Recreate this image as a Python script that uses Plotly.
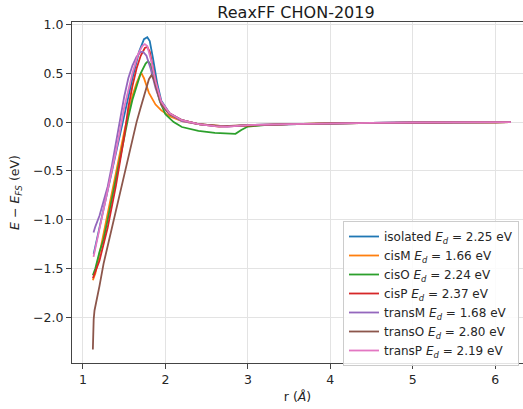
import plotly.graph_objects as go

# ---- data ----
labels = [
    "isolated <i>E</i><sub><i>d</i></sub> = 2.25 eV",
    "cisM <i>E</i><sub><i>d</i></sub> = 1.66 eV",
    "cisO <i>E</i><sub><i>d</i></sub> = 2.24 eV",
    "cisP <i>E</i><sub><i>d</i></sub> = 2.37 eV",
    "transM <i>E</i><sub><i>d</i></sub> = 1.68 eV",
    "transO <i>E</i><sub><i>d</i></sub> = 2.80 eV",
    "transP <i>E</i><sub><i>d</i></sub> = 2.19 eV",
]
colors = ["#1f77b4", "#ff7f0e", "#2ca02c", "#d62728", "#9467bd", "#8c564b", "#e377c2"]

tail_r = [3.5, 4.0, 4.5, 5.0, 5.5, 6.0, 6.19]
tail_e = [-0.02, -0.012, -0.007, -0.004, -0.002, -0.001, 0.0]

isolated_r = [1.13, 1.2, 1.3, 1.4, 1.45, 1.5, 1.6, 1.68, 1.74, 1.78, 1.81, 1.85, 1.9, 1.95, 2.05, 2.2, 2.4, 2.6, 2.8, 3.0] + tail_r
isolated_e = [-1.35, -1.08, -0.72, -0.33, -0.12, 0.08, 0.45, 0.72, 0.85, 0.87, 0.83, 0.65, 0.40, 0.22, 0.09, 0.02, -0.02, -0.035, -0.04, -0.03] + tail_e

cisM_r = [1.12, 1.15, 1.2, 1.3, 1.4, 1.5, 1.55, 1.6, 1.65, 1.69, 1.71, 1.74, 1.8, 1.88, 1.95, 2.05, 2.2, 2.4, 2.7, 3.0] + tail_r
cisM_e = [-1.62, -1.55, -1.35, -0.95, -0.52, -0.10, 0.10, 0.27, 0.40, 0.48, 0.50, 0.45, 0.30, 0.18, 0.12, 0.06, 0.01, -0.02, -0.04, -0.03] + tail_e

cisO_r = [1.12, 1.15, 1.2, 1.25, 1.3, 1.4, 1.5, 1.55, 1.6, 1.7, 1.76, 1.79, 1.82, 1.87, 1.93, 2.0, 2.1, 2.2, 2.4, 2.6, 2.8, 2.85, 2.92, 3.0, 3.2] + tail_r
cisO_e = [-1.57, -1.50, -1.33, -1.20, -1.0, -0.58, -0.15, 0.05, 0.23, 0.50, 0.60, 0.625, 0.59, 0.42, 0.22, 0.08, 0.0, -0.05, -0.09, -0.11, -0.12, -0.12, -0.08, -0.045, -0.03] + tail_e

cisP_r = [1.12, 1.2, 1.3, 1.4, 1.5, 1.55, 1.6, 1.65, 1.7, 1.75, 1.78, 1.81, 1.85, 1.9, 1.95, 2.05, 2.2, 2.4, 2.65, 2.8, 3.0] + tail_r
cisP_e = [-1.60, -1.42, -1.08, -0.65, -0.15, 0.15, 0.37, 0.55, 0.68, 0.76, 0.77, 0.72, 0.55, 0.35, 0.20, 0.09, 0.02, -0.02, -0.045, -0.04, -0.03] + tail_e

transM_r = [1.128, 1.15, 1.2, 1.25, 1.3, 1.35, 1.4, 1.45, 1.5, 1.55, 1.6, 1.65, 1.7, 1.73, 1.77, 1.82, 1.88, 1.95, 2.05, 2.2, 2.4, 2.6, 2.75, 3.0] + tail_r
transM_e = [-1.13, -1.07, -0.96, -0.82, -0.66, -0.45, -0.21, 0.03, 0.26, 0.45, 0.58, 0.67, 0.72, 0.72, 0.68, 0.55, 0.35, 0.18, 0.08, 0.01, -0.02, -0.04, -0.045, -0.03] + tail_e

transO_r = [1.12, 1.123, 1.13, 1.14, 1.17, 1.2, 1.25, 1.3, 1.4, 1.5, 1.6, 1.65, 1.7, 1.75, 1.8, 1.83, 1.86, 1.9, 1.95, 2.05, 2.2, 2.4, 2.7, 3.0] + tail_r
transO_e = [-2.33, -2.18, -2.02, -1.93, -1.82, -1.68, -1.45, -1.27, -0.90, -0.53, -0.17, 0.0, 0.15, 0.30, 0.44, 0.48, 0.44, 0.32, 0.18, 0.08, 0.02, -0.02, -0.04, -0.03] + tail_e

transP_r = [1.128, 1.2, 1.3, 1.4, 1.45, 1.5, 1.6, 1.67, 1.72, 1.75, 1.78, 1.83, 1.88, 1.95, 2.05, 2.2, 2.4, 2.6, 2.75, 3.0] + tail_r
transP_e = [-1.38, -1.10, -0.72, -0.30, -0.08, 0.15, 0.50, 0.70, 0.78, 0.80, 0.78, 0.62, 0.42, 0.21, 0.09, 0.02, -0.02, -0.04, -0.045, -0.03] + tail_e

series_r = [isolated_r, cisM_r, cisO_r, cisP_r, transM_r, transO_r, transP_r]
series_e = [isolated_e, cisM_e, cisO_e, cisP_e, transM_e, transO_e, transP_e]

x_ticks = [1, 2, 3, 4, 5, 6]
y_ticks = [-2.0, -1.5, -1.0, -0.5, 0.0, 0.5, 1.0]

FONT = "DejaVu Sans"
W, H = 523, 409
ML, MR, MT, MB = 72, 0, 22, 46

fig = go.Figure()
for r, e, lab, c in zip(series_r, series_e, labels, colors):
    fig.add_trace(go.Scatter(x=r, y=e, mode="lines", name=lab,
                             line=dict(color=c, width=1.8)))

fig.update_layout(
    width=W, height=H,
    margin=dict(l=ML, r=MR, t=MT, b=MB, pad=0),
    paper_bgcolor="white", plot_bgcolor="white",
    font=dict(family=FONT, size=12, color="#262626"),
    title=dict(text="ReaxFF CHON-2019", font=dict(family=FONT, size=16, color="#1a1a1a"),
               x=(296 - ML) / (W - ML - MR), xref="paper", xanchor="center",
               y=1 - 12 / H, yref="container", yanchor="middle"),
    showlegend=True,
    legend=dict(x=(343 - ML) / (W - ML - MR), y=(H - MB - 221) / (H - MB - MT),
                xanchor="left", yanchor="top",
                bgcolor="rgba(255,255,255,0.85)", bordercolor="#cccccc", borderwidth=1,
                font=dict(family=FONT, size=12, color="#262626"),
                tracegroupgap=0, itemwidth=30),
)
fig.update_xaxes(
    range=[0.867, 6.337], tickvals=x_ticks, ticktext=[str(v) for v in x_ticks],
    showgrid=True, gridcolor="#e3e3e3", gridwidth=1, zeroline=False,
    showline=True, linecolor="#444444", linewidth=1.2, mirror=True,
    ticks="outside", ticklen=5, tickcolor="#444444",
    tickfont=dict(family=FONT, size=12.5, color="#262626"),
    title=dict(text="r (<i>Å</i>)", font=dict(family=FONT, size=12.5, color="#262626"), standoff=6),
)
fig.update_yaxes(
    range=[-2.468, 1.026], tickvals=y_ticks, ticktext=[f"{v:.1f}".replace("-", "\u2212") for v in y_ticks],
    showgrid=True, gridcolor="#e3e3e3", gridwidth=1, zeroline=False,
    showline=True, linecolor="#444444", linewidth=1.2, mirror=False,
    ticks="outside", ticklen=5, tickcolor="#444444",
    tickfont=dict(family=FONT, size=12.5, color="#262626"),
    title=dict(text="<i>E</i> \u2212 <i>E</i><sub><i>FS</i></sub> (eV)",
               font=dict(family=FONT, size=12.5, color="#262626"), standoff=10),
)

fig.write_html("out.html")
